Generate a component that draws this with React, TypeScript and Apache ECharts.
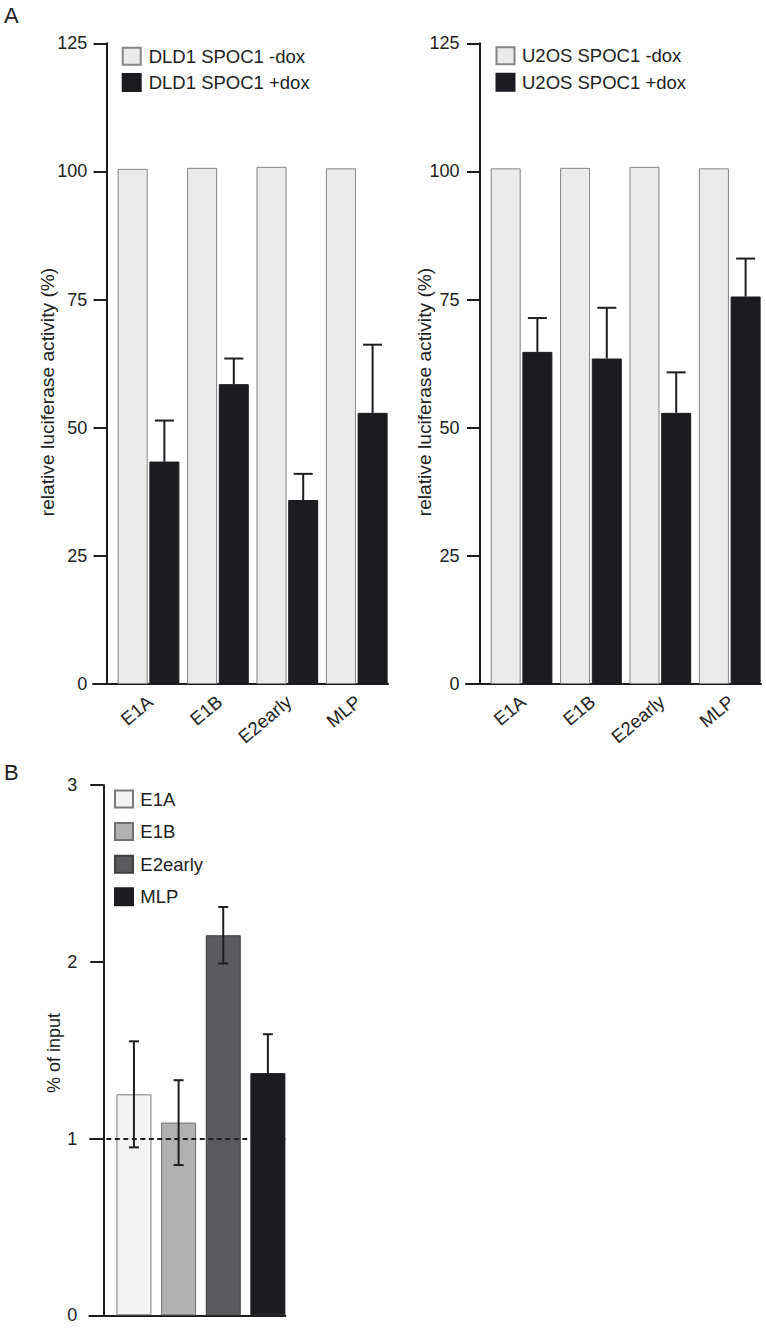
import React, { useEffect, useRef } from "react";
import * as echarts from "echarts";

// ---------- data ----------
const promoters = ["E1A", "E1B", "E2early", "MLP"];
const promoterX = [0, 1, 2, 3];

const dldLegend = ["DLD1 SPOC1 -dox", "DLD1 SPOC1 +dox"];
const dldMinus = [100.5, 100.7, 100.9, 100.6];
const dldPlus = [43.4, 58.5, 35.9, 52.9];
const dldPlusErr = [8.0, 5.0, 5.1, 13.3];

const u2osLegend = ["U2OS SPOC1 -dox", "U2OS SPOC1 +dox"];
const u2osMinus = [100.6, 100.7, 100.9, 100.6];
const u2osPlus = [64.8, 63.5, 52.9, 75.6];
const u2osPlusErr = [6.6, 9.9, 7.9, 7.4];

const chipValues = [1.25, 1.09, 2.15, 1.37];
const chipErr = [0.3, 0.24, 0.16, 0.22];
const chipBaseline = 1;

const luciferaseTicks = { min: 0, max: 125, interval: 25 };
const chipTicks = { min: 0, max: 3, interval: 1 };

// ---------- style ----------
const FONT = "'Liberation Sans', Arial, Helvetica, sans-serif";
const INK = "#1e1d21";
const TXT = "#222222";
const LIGHT = "#ebebeb";
const LIGHT_BORDER = "#858585";
const DARK = "#1c1b20";
const chipColors = ["#f3f3f3", "#b1b1b1", "#5b5b5d", "#1c1b20"];
const chipBorders = ["#7a7a7a", "#707070", "#404040", "#1c1b20"];

const BAR_A = 30;
const GAP_A = 1.7;
const BAR_B = 35;
const LABEL_ROT = 40;

function App() {
  const ref = useRef<HTMLDivElement | null>(null);

  useEffect(() => {
    if (!ref.current) return;
    const chart = echarts.init(ref.current, undefined, { renderer: "svg" });

    const yAxisBase = (gridIndex: number, t: any, offset: number, margin: number) => ({
      type: "value",
      gridIndex,
      min: t.min,
      max: t.max,
      interval: t.interval,
      offset,
      axisLine: { show: true, onZero: false, lineStyle: { color: INK, width: 2 } },
      axisTick: { show: true, length: 13, lineStyle: { color: INK, width: 2 } },
      axisLabel: { margin, fontFamily: FONT, fontSize: 18, color: TXT },
      splitLine: { show: false },
    });

    const xAxisPlain = (gridIndex: number, min: number, max: number) => ({
      type: "value",
      gridIndex,
      min,
      max,
      axisLine: { show: true, onZero: false, lineStyle: { color: INK, width: 2 } },
      axisTick: { show: false },
      axisLabel: { show: false },
      splitLine: { show: false },
    });

    // category labels placed through the x scale
    const labelSeries = (idx: number) => ({
      type: "custom",
      xAxisIndex: idx,
      yAxisIndex: idx,
      silent: true,
      clip: false,
      z: 3,
      data: promoterX.map((x) => [x, 0]),
      encode: { x: 0, y: 1 },
      renderItem: (params: any, api: any) => {
        const p = api.coord([api.value(0), api.value(1)]);
        return {
          type: "text",
          x: p[0] + 1.5,
          y: p[1] + 15,
          rotation: (LABEL_ROT * Math.PI) / 180,
          style: {
            text: promoters[params.dataIndex],
            fontFamily: FONT,
            fontSize: 18.5,
            fill: TXT,
            align: "right",
            verticalAlign: "middle",
          },
        };
      },
    });

    const errA = (idx: number, vals: number[], errs: number[]) => ({
      type: "custom",
      xAxisIndex: idx,
      yAxisIndex: idx,
      z: 5,
      silent: true,
      data: promoterX.map((x, i) => [x, vals[i], vals[i] + errs[i]]),
      encode: { x: 0, y: 1 },
      renderItem: (params: any, api: any) => {
        const x = api.value(0);
        const p0 = api.coord([x, api.value(1)]);
        const p1 = api.coord([x, api.value(2)]);
        const cx = p0[0] + (BAR_A + GAP_A) / 2;
        return {
          type: "group",
          children: [
            { type: "line", shape: { x1: cx, y1: p0[1], x2: cx, y2: p1[1] }, style: { stroke: INK, lineWidth: 2 } },
            { type: "line", shape: { x1: cx - 9.5, y1: p1[1], x2: cx + 9.5, y2: p1[1] }, style: { stroke: INK, lineWidth: 2 } },
          ],
        };
      },
    });

    const barA = (idx: number, name: string, vals: number[], light: boolean) => ({
      type: "bar",
      name,
      xAxisIndex: idx,
      yAxisIndex: idx,
      barWidth: BAR_A,
      barGap: ((GAP_A / BAR_A) * 100).toFixed(1) + "%",
      data: promoterX.map((x, i) => [x, vals[i]]),
      itemStyle: light
        ? { color: LIGHT, borderColor: LIGHT_BORDER, borderWidth: 1 }
        : { color: DARK, borderColor: DARK, borderWidth: 1 },
    });

    const legendCommon = {
      orient: "vertical",
      icon: "rect",
      itemWidth: 18,
      itemHeight: 17,
      padding: 0,
      selectedMode: false,
    };
    const legendText = (pad: number) => ({
      fontFamily: FONT,
      fontSize: 18.5,
      color: TXT,
      lineHeight: 17,
      padding: [0, 0, 0, pad],
    });

    const option: any = {
      animation: false,
      backgroundColor: "#ffffff",
      grid: [
        { left: 93, top: 43.3, width: 295, height: 640.7 },
        { left: 466, top: 43.3, width: 295, height: 640.7 },
        { left: 89.3, top: 785, width: 196, height: 530.3 },
      ],
      legend: [
        { ...legendCommon, data: dldLegend, left: 121.7, top: 46.7, itemGap: 7.4, textStyle: legendText(3) },
        { ...legendCommon, data: u2osLegend, left: 495.5, top: 46.3, itemGap: 7.4, textStyle: legendText(2.5) },
        { ...legendCommon, data: promoters, left: 114, top: 789.5, itemGap: 13.6, textStyle: legendText(2.3) },
      ],
      xAxis: [xAxisPlain(0, -0.8, 3.45), xAxisPlain(1, -0.8, 3.45), xAxisPlain(2, -1, 3.39)],
      yAxis: [
        yAxisBase(0, luciferaseTicks, -13.7, 19.5),
        yAxisBase(1, luciferaseTicks, -14, 20.5),
        yAxisBase(2, chipTicks, -14, 26),
      ],
      graphic: [
        { type: "text", left: 4, top: 4, style: { text: "A", fontFamily: FONT, fontSize: 22, fill: TXT } },
        { type: "text", left: 4, top: 761, style: { text: "B", fontFamily: FONT, fontSize: 22, fill: TXT } },
        {
          type: "text",
          x: 47.5,
          y: 392,
          rotation: Math.PI / 2,
          style: { text: "relative luciferase activity (%)", fontFamily: FONT, fontSize: 19.2, fill: TXT, align: "center", verticalAlign: "middle" },
        },
        {
          type: "text",
          x: 424,
          y: 392,
          rotation: Math.PI / 2,
          style: { text: "relative luciferase activity (%)", fontFamily: FONT, fontSize: 19.2, fill: TXT, align: "center", verticalAlign: "middle" },
        },
        {
          type: "text",
          x: 54,
          y: 1053,
          rotation: Math.PI / 2,
          style: { text: "% of input", fontFamily: FONT, fontSize: 18, fill: TXT, align: "center", verticalAlign: "middle" },
        },
      ],
      series: [
        barA(0, dldLegend[0], dldMinus, true),
        barA(0, dldLegend[1], dldPlus, false),
        errA(0, dldPlus, dldPlusErr),
        labelSeries(0),
        barA(1, u2osLegend[0], u2osMinus, true),
        barA(1, u2osLegend[1], u2osPlus, false),
        errA(1, u2osPlus, u2osPlusErr),
        labelSeries(1),
        ...promoters.map((p, i) => ({
          type: "bar",
          name: p,
          xAxisIndex: 2,
          yAxisIndex: 2,
          barWidth: BAR_B,
          barGap: "-100%",
          data: [[promoterX[i], chipValues[i]]],
          itemStyle: { color: chipColors[i], borderColor: chipBorders[i], borderWidth: 1 },
          markLine:
            i === 0
              ? {
                  silent: true,
                  symbol: "none",
                  z: 10,
                  label: { show: false },
                  lineStyle: { color: INK, width: 2, type: [5, 3.5] },
                  data: [{ yAxis: chipBaseline }],
                }
              : undefined,
        })),
        {
          type: "custom",
          xAxisIndex: 2,
          yAxisIndex: 2,
          z: 6,
          silent: true,
          data: promoterX.map((x, i) => [x, chipValues[i] - chipErr[i], chipValues[i] + chipErr[i]]),
          encode: { x: 0, y: 1 },
          renderItem: (params: any, api: any) => {
            const x = api.value(0);
            const lo = api.coord([x, api.value(1)]);
            const hi = api.coord([x, api.value(2)]);
            const cx = lo[0];
            return {
              type: "group",
              children: [
                { type: "line", shape: { x1: cx, y1: lo[1], x2: cx, y2: hi[1] }, style: { stroke: INK, lineWidth: 2 } },
                { type: "line", shape: { x1: cx - 5, y1: hi[1], x2: cx + 5, y2: hi[1] }, style: { stroke: INK, lineWidth: 2 } },
                { type: "line", shape: { x1: cx - 5, y1: lo[1], x2: cx + 5, y2: lo[1] }, style: { stroke: INK, lineWidth: 2 } },
              ],
            };
          },
        },
      ],
    };

    chart.setOption(option);
    return () => chart.dispose();
  }, []);

  return (
    <div
      ref={ref}
      style={{ position: "absolute", left: 0, top: 0, width: 766, height: 1328, background: "#fff" }}
    />
  );
}

export default App;
